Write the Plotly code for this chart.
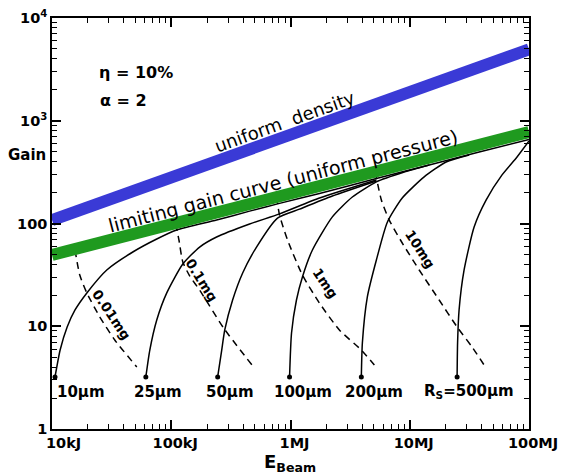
import numpy as np
import plotly.graph_objects as go

# ---------------- data (beam energy in kJ, gain) ----------------
E_ticks = [10, 100, 1000, 10000, 100000]
E_tick_labels = ["\u00a0\u00a0\u00a010kJ", "100kJ", "1MJ", "10MJ", "100MJ"]
G_ticks = [1, 10, 100, 1000, 10000]
G_tick_labels = ["1", "10", "100", "10<sup>3</sup>", "10<sup>4</sup>"]

uniform_density_E = [10, 100000]
uniform_density_G = [108, 4960]

limiting_E = [10, 100000]
limiting_G = [49.4, 778]

rs_names = ["10μm", "25μm", "50μm", "100μm", "200μm", "R<sub>S</sub>=500μm"]
rs_E = [
    [10.6, 11.7, 13.4, 15.6, 19.6, 28.8, 47.6, 75.6, 111, 240, 454, 809, 1750, 5250, 14560, 38200, 100000],
    [61.2, 66.1, 75.6, 91.7, 125, 173, 240, 454, 809, 1750, 5250],
    [245, 265, 281, 327, 397, 519, 778, 1189, 2244, 5250],
    [982, 1020, 1122, 1259, 1527, 2244, 3301, 5250, 8990, 14560],
    [3926, 4006, 4410, 5250, 6486, 8650, 13210, 20180, 31470],
    [24950, 25180, 25920, 28560, 34650, 43650, 59430, 79400, 100000],
]
rs_G = [
    [3.21, 5.87, 9.84, 14.4, 21.1, 35.3, 52.8, 70.7, 86.5, 108, 132, 157, 196, 274, 371, 496, 657],
    [3.21, 5.87, 11.5, 21.1, 40.3, 59.0, 73.9, 98.9, 124, 177, 265],
    [3.21, 5.87, 9.2, 18.0, 33.0, 59.0, 113, 138, 185, 259],
    [3.21, 8.6, 18.0, 30.2, 55.2, 116, 181, 254, 317, 371],
    [3.21, 6.87, 19.3, 44.1, 103, 177, 284, 397, 464],
    [3.21, 6.87, 14.4, 35.3, 92.5, 169, 297, 444, 635],
]

mass_names = ["0.01mg", "0.1mg", "1mg", "10mg"]
mass_E = [
    [15.6, 17.1, 19.6, 25.2, 33.6, 51.4],
    [109, 116, 125, 143, 173, 275, 490],
    [764, 809, 944, 1259, 1750, 2570, 3926, 5050],
    [5140, 5780, 6730, 8650, 12000, 17650, 24950, 33340, 41980],
]
mass_G = [
    [55.2, 31.5, 21.1, 12.3, 7.35, 4.01],
    [98.9, 69.1, 42.2, 30.8, 22.5, 9.6, 4.01],
    [181, 121, 69.1, 31.5, 16.8, 9.2, 5.87, 4.20],
    [317, 169, 108, 64.6, 35.3, 18.0, 9.84, 6.28, 4.20],
]

FONT = "DejaVu Sans"
fig = go.Figure()

# R_S curves (solid) with start dots
for E, G in zip(rs_E, rs_G):
    fig.add_trace(go.Scatter(x=E, y=G, mode="lines",
                             line=dict(color="black", width=1.5, shape="spline", smoothing=0.6),
                             hoverinfo="skip"))
fig.add_trace(go.Scatter(x=[e[0] for e in rs_E], y=[g[0] for g in rs_G], mode="markers",
                         marker=dict(color="black", size=5), hoverinfo="skip"))

# constant-mass curves (dashed)
for E, G in zip(mass_E, mass_G):
    fig.add_trace(go.Scatter(x=E, y=G, mode="lines",
                             line=dict(color="black", width=1.5, dash="7px,5px", shape="spline", smoothing=0.6),
                             hoverinfo="skip"))

# thick lines
fig.add_trace(go.Scatter(x=uniform_density_E, y=uniform_density_G, mode="lines",
                         line=dict(color="#3a3ad6", width=12), hoverinfo="skip"))
fig.add_trace(go.Scatter(x=limiting_E, y=limiting_G, mode="lines",
                         line=dict(color="#1f9a1f", width=12), hoverinfo="skip"))


def on_line(e, xs, ys):
    return float(np.interp(np.log10(e), np.log10(xs), np.log10(ys)))


ann = []
ann.append(dict(x=np.log10(900), y=on_line(900, uniform_density_E, uniform_density_G), yshift=15,
                text="uniform  density", textangle=-19.8, showarrow=False,
                font=dict(family=FONT, size=18, color="black")))
ann.append(dict(x=np.log10(857), y=on_line(857, limiting_E, limiting_G), yshift=15,
                text="limiting gain curve (uniform pressure)", textangle=-14.5, showarrow=False,
                font=dict(family=FONT, size=19, color="black")))

# R_S labels below dots
rs_xshift = [26, 12, 12, 13, 13, 12]
for name, E, G, xs in zip(rs_names, rs_E, rs_G, rs_xshift):
    ann.append(dict(x=np.log10(E[0]), y=np.log10(G[0]), xshift=xs, yshift=-15, text=name,
                    showarrow=False, font=dict(family=FONT, size=15, color="black", weight="bold")))

# mass labels
mass_lab_pos = [(31.8, 12.9, 56), (180, 28.2, 58), (1963, 26.4, 56), (12250, 56.5, 57)]
for name, (xe, yg, ang) in zip(mass_names, mass_lab_pos):
    ann.append(dict(x=np.log10(xe), y=np.log10(yg), text=name, textangle=ang, showarrow=False,
                    font=dict(family=FONT, size=13.5, color="black", weight="bold")))

# parameters
ann.append(dict(x=np.log10(23.8), y=np.log10(2980), text="η = 10%", xanchor="left", showarrow=False,
                font=dict(family=FONT, size=16, color="black", weight="bold")))
ann.append(dict(x=np.log10(24.5), y=np.log10(1592), text="α = 2", xanchor="left", showarrow=False,
                font=dict(family=FONT, size=16, color="black", weight="bold")))

# axis titles
ann.append(dict(xref="paper", yref="paper", x=-0.052, y=0.667, text="Gain", showarrow=False,
                xanchor="center", yanchor="middle",
                font=dict(family=FONT, size=15, color="black", weight="bold")))
ann.append(dict(xref="paper", yref="paper", x=0.499, y=-0.082, text="E<sub>Beam</sub>", showarrow=False,
                xanchor="center", yanchor="middle",
                font=dict(family=FONT, size=18, color="black", weight="bold")))

axis_common = dict(type="log", tickmode="array", ticks="inside", ticklen=9, tickwidth=1.5,
                   tickcolor="black", showline=True, linecolor="black", linewidth=1.5,
                   mirror="allticks", showgrid=False, zeroline=False, automargin=False,
                   ticklabeloverflow="allow",
                   tickfont=dict(family=FONT, size=14.5, color="black", weight="bold"),
                   minor=dict(ticks="inside", ticklen=5, tickwidth=1.2, tickcolor="black",
                              dtick="D1", showgrid=False))

fig.update_layout(
    width=561, height=474,
    margin=dict(l=52, r=32, t=18, b=45),
    plot_bgcolor="white", paper_bgcolor="white",
    showlegend=False,
    xaxis=dict(range=[1, 5], tickvals=E_ticks, ticktext=E_tick_labels, ticklabelshift=4, **axis_common),
    yaxis=dict(range=[0, 4], tickvals=G_ticks, ticktext=G_tick_labels, **axis_common),
    annotations=ann,
)

fig.write_html("out.html", config={"displayModeBar": False},
               post_script="document.body.style.margin='0px';")
